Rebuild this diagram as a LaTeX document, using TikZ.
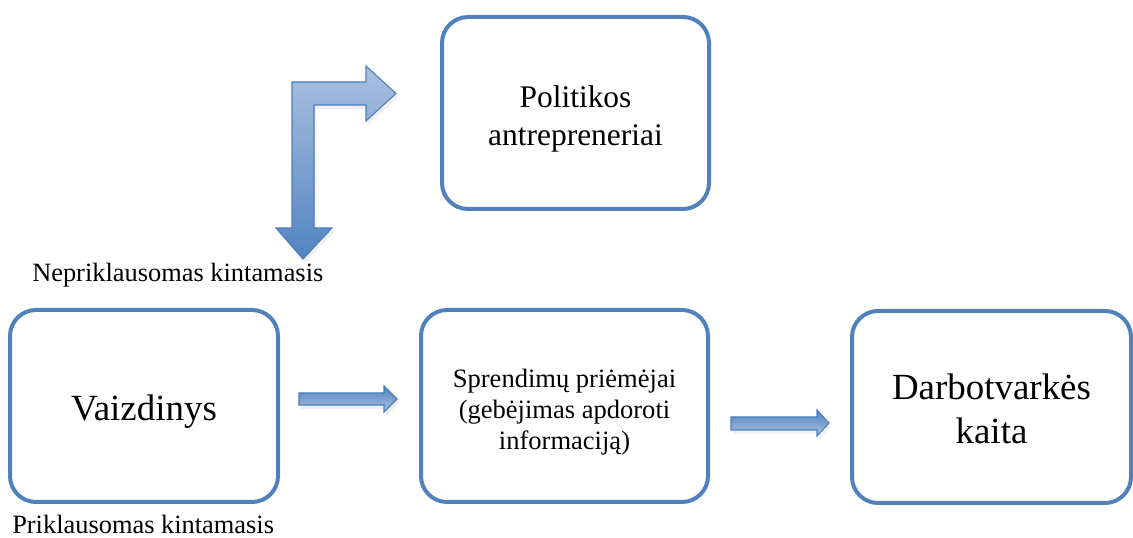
\documentclass[tikz,border=0pt]{standalone}
\usepackage{fontspec}
\setmainfont{Liberation Serif}
\usetikzlibrary{shadows}
\definecolor{boxblue}{RGB}{79,129,189}
\definecolor{arrowedge}{RGB}{74,126,187}
\definecolor{arrowlight}{RGB}{170,193,224}
\definecolor{arrowdark}{RGB}{82,132,192}
\begin{document}
\begin{tikzpicture}[x=0.75pt,y=-0.75pt,
	box/.style={draw=boxblue,line width=3pt,rounded corners=19.5pt,minimum height=144pt,inner sep=0pt},
	boxtext/.style={align=center,inner sep=0pt,yshift=-4.5pt},
	blockarrow/.style={draw=arrowedge,line width=0.8pt,line join=miter,drop shadow={opacity=0.12,shadow xshift=1.5pt,shadow yshift=-3pt}}]
	\useasboundingbox (0,0) rectangle (1133,538);

	\node [box,minimum width=200.25pt,label={[boxtext,font=\fontsize{23.6}{28}\selectfont]center:{Politikos\\antrepreneriai}}](pol) at (575.5,113) {};
	\node [box,minimum width=201pt,label={[boxtext,font=\fontsize{27.7}{31}\selectfont]center:Vaizdinys}](vaiz) at (144,406) {};
	\node [box,minimum width=215.25pt,label={[boxtext,font=\fontsize{19.9}{23}\selectfont]center:{Sprendimų priėmėjai\\(gebėjimas apdoroti\\informaciją)}}](spr) at (564.5,406) {};
	\node [box,minimum width=209.25pt,label={[boxtext,yshift=3pt,font=\fontsize{27.7}{33}\selectfont]center:{Darbotvarkės\\kaita}}](darb) at (991.5,407) {};

	\node [anchor=base west,inner sep=0pt,font=\fontsize{19.8}{23}\selectfont](nepr) at (32,282) {Nepriklausomas kintamasis};
	\node [anchor=base west,inner sep=0pt,font=\fontsize{19.8}{23}\selectfont](prikl) at (12,533) {Priklausomas kintamasis};

	% bent arrow
	\draw [blockarrow,top color=arrowlight,bottom color=arrowdark] (292,82) -- (366,82) -- (366,66) -- (396,93.5) -- (366,121) -- (366,105) -- (314,105) -- (314,228) -- (332,228) -- (303,259) -- (276,228) -- (292,228) -- cycle;

	% straight arrows
	\draw [blockarrow,top color=arrowdark,bottom color=arrowlight] (299,393) -- (384,393) -- (384,386) -- (397,399) -- (384,412) -- (384,405) -- (299,405) -- cycle;
	\draw [blockarrow,top color=arrowdark,bottom color=arrowlight] (731,417) -- (817,417) -- (817,410) -- (829,423) -- (817,436) -- (817,430) -- (731,430) -- cycle;
\end{tikzpicture}
\end{document}
